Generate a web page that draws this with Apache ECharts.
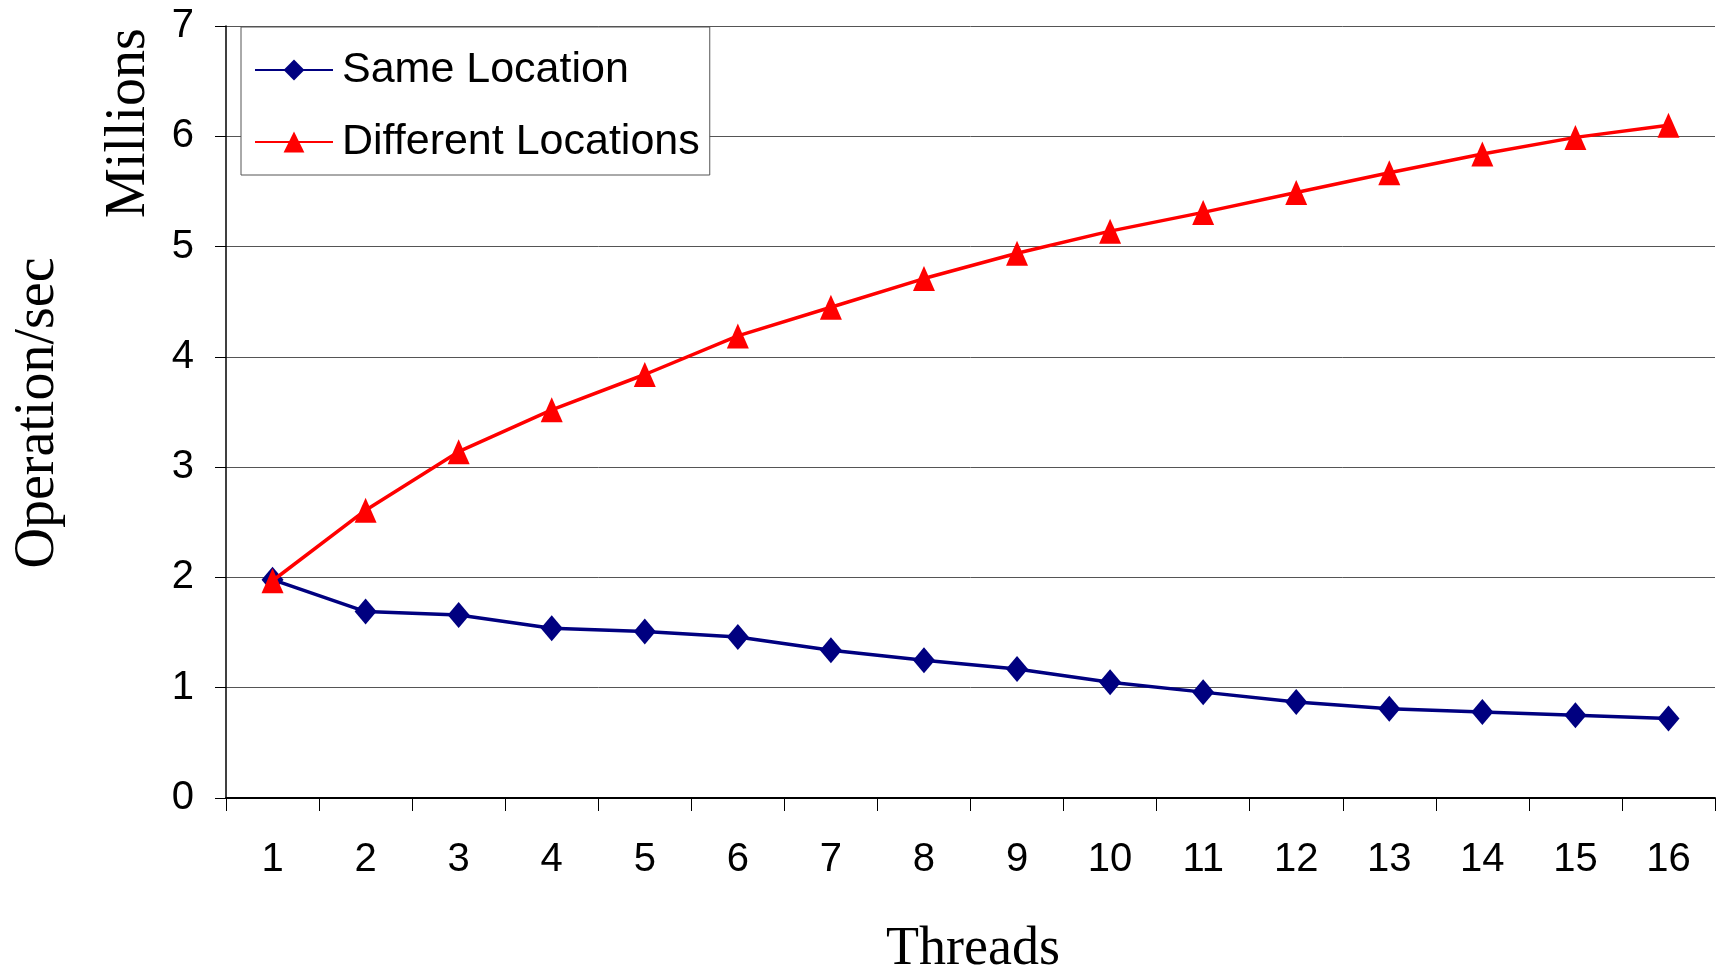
<!DOCTYPE html>
<html>
<head>
<meta charset="utf-8">
<script src="https://cdn.jsdelivr.net/npm/echarts@6/dist/echarts.min.js"></script>
<style>
html,body{margin:0;padding:0;background:#fff;}
#chart{width:1716px;height:974px;}
</style>
</head>
<body>
<div id="chart"></div>
<script>
const threads = ['1','2','3','4','5','6','7','8','9','10','11','12','13','14','15','16'];
const sameLocation = [1.98,1.69,1.66,1.54,1.51,1.46,1.34,1.25,1.17,1.05,0.96,0.87,0.81,0.78,0.75,0.72];
const differentLocations = [1.97,2.61,3.14,3.52,3.84,4.19,4.45,4.71,4.94,5.14,5.31,5.49,5.67,5.84,5.99,6.10];
const seriesNames = ['Same Location','Different Locations'];

const sansFont = '"Liberation Sans Narrow", "Liberation Sans", Arial, sans-serif';
const serifFont = '"Liberation Serif", "Times New Roman", serif';

const chart = echarts.init(document.getElementById('chart'), null, {renderer:'canvas'});
chart.setOption({
  animation: false,
  backgroundColor: '#ffffff',
  grid: {left: 226, right: 1, top: 26, bottom: 176, containLabel: false},
  legend: {
    orient: 'vertical',
    left: 241, top: 27,
    padding: [15, 10, 5, 13],
    itemGap: 16,
    itemWidth: 78, itemHeight: 26,
    borderColor: '#555', borderWidth: 1,
    backgroundColor: '#fff',
    data: seriesNames,
    textStyle: {fontFamily: sansFont, fontSize: 43, color: '#000', lineHeight: 56, padding:[0,0,0,4]}
  },
  xAxis: {
    type: 'category',
    data: threads,
    boundaryGap: true,
    axisLine: {lineStyle: {color: '#000', width: 2}},
    axisTick: {show: true, interval: 0, length: 13, lineStyle: {color: '#000', width: 1}},
    axisLabel: {interval: 0, margin: 42, fontFamily: sansFont, fontSize: 40, color: '#000'},
    splitLine: {show: false}
  },
  yAxis: {
    type: 'value',
    min: 0, max: 7, interval: 1,
    axisLine: {show: true, lineStyle: {color: '#000', width: 1.5}},
    axisTick: {show: true, length: 11, lineStyle: {color: '#000'}},
    axisLabel: {margin: 32, fontFamily: sansFont, fontSize: 40, color: '#000'},
    splitLine: {show: true, lineStyle: {color: '#555', width: 1}}
  },
  graphic: [
    {type: 'text', rotation: Math.PI/2, x: 38, y: 413,
      style: {text: 'Operation/sec', font: '56px ' + serifFont, fill: '#000', align: 'center', verticalAlign: 'middle'}},
    {type: 'text', rotation: Math.PI/2, x: 129, y: 123,
      style: {text: 'Millions', font: '56px ' + serifFont, fill: '#000', align: 'center', verticalAlign: 'middle'}},
    {type: 'text', x: 973, y: 950,
      style: {text: 'Threads', font: '54px ' + serifFont, fill: '#000', align: 'center', verticalAlign: 'middle'}}
  ],
  series: [
    {
      name: seriesNames[0], type: 'line', data: sameLocation,
      symbol: 'diamond', symbolSize: [22, 26],
      itemStyle: {color: '#000080'},
      lineStyle: {color: '#000080', width: 3.5},
      z: 3
    },
    {
      name: seriesNames[1], type: 'line', data: differentLocations,
      symbol: 'triangle', symbolSize: [22, 25],
      itemStyle: {color: '#ff0000'},
      lineStyle: {color: '#ff0000', width: 3.5},
      z: 4
    }
  ]
});
</script>
</body>
</html>
